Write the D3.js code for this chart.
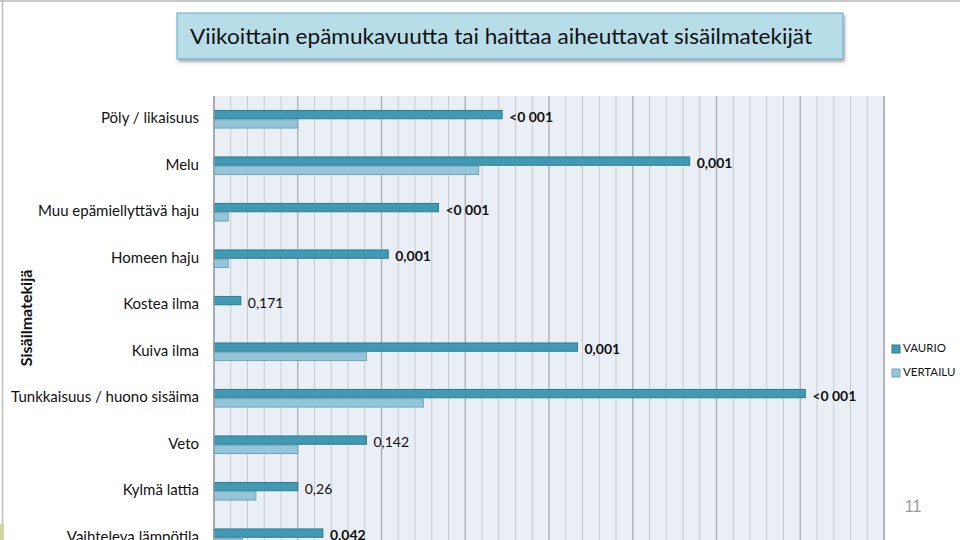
<!DOCTYPE html>
<html>
<head>
<meta charset="utf-8">
<script src="https://cdn.jsdelivr.net/npm/d3@7"></script>
<style>
  body { margin: 0; background: #fff; }
  svg { display: block; font-family: Lato, "Open Sans", sans-serif; }
</style>
</head>
<body>
<div class="chart"></div>
<script>
// data
var categories = ["Pöly / likaisuus", "Melu", "Muu epämiellyttävä haju", "Homeen haju", "Kostea ilma",
  "Kuiva ilma", "Tunkkaisuus / huono sisäima", "Veto", "Kylmä lattia", "Vaihteleva lämpötila"]
var vaurio = [17.2, 28.4, 13.4, 10.4, 1.6, 21.7, 35.3, 9.1, 5.0, 6.5]
var vertailu = [5.0, 15.8, 0.85, 0.85, 0, 9.1, 12.5, 5.0, 2.5, 1.7]
var pLabels = ["<0 001", "0,001", "<0 001", "0,001", "0,171", "0,001", "<0 001", "0,142", "0,26", "0,042"]
var pBold = [true, true, true, true, false, true, true, false, false, true]
var seriesNames = ["VAURIO", "VERTAILU"]
var seriesColors = ["#4299b3", "#94c5d8"]
var seriesStroke = ["#2b7b92", "#6ea5b9"]

var W = 960, H = 540
var svg = d3.select(".chart").append("svg")
  .attr("width", W)
  .attr("height", H)

// slide frame
svg.append("line").attr("x1", 0).attr("x2", W).attr("y1", 1).attr("y2", 1)
  .attr("stroke", "#c8c8c8").attr("stroke-width", 2)
svg.append("line").attr("x1", 2.5).attr("x2", 2.5).attr("y1", 0).attr("y2", H)
  .attr("stroke", "#bdbdbd").attr("stroke-width", 1.5)
svg.append("rect").attr("x", 0).attr("y", 524).attr("width", 4).attr("height", 16)
  .attr("fill", "#cfd6a0")

// title box
var defs = svg.append("defs")
var f = defs.append("filter").attr("id", "shadow").attr("x", "-5%").attr("y", "-20%").attr("width", "110%").attr("height", "150%")
f.append("feDropShadow").attr("dx", 1.5).attr("dy", 2.5).attr("stdDeviation", 1.5).attr("flood-color", "#555").attr("flood-opacity", 0.5)

svg.append("rect")
  .attr("x", 177).attr("y", 13).attr("width", 666).attr("height", 46)
  .attr("fill", "#b7dde9").attr("stroke", "#62adc6").attr("stroke-width", 1)
  .attr("filter", "url(#shadow)")
svg.append("text")
  .attr("x", 190).attr("y", 44)
  .attr("font-size", 22)
  .attr("fill", "#111")
  .attr("textLength", 622)
  .attr("lengthAdjust", "spacingAndGlyphs")
  .text("Viikoittain epämukavuutta tai haittaa aiheuttavat sisäilmatekijät")

// plot area
var plotLeft = 214, plotRight = 884, plotTop = 96
var bandH = 46.5
var x = d3.scaleLinear().domain([0, 40]).range([plotLeft, plotRight])
var y = d3.scaleBand().domain(categories).range([plotTop, plotTop + bandH * categories.length])
var barH = y.bandwidth() * 0.2

var plot = svg.append("g")
plot.append("rect")
  .attr("x", plotLeft).attr("y", plotTop)
  .attr("width", plotRight - plotLeft).attr("height", H - plotTop)
  .attr("fill", "#e9eff4")

// grid
plot.append("g").selectAll("line")
  .data(d3.range(0, 41))
  .enter()
  .append("line")
  .attr("x1", d => x(d)).attr("x2", d => x(d))
  .attr("y1", plotTop).attr("y2", H)
  .attr("stroke", d => d % 5 == 0 ? "#a9aeb3" : "#c5cbd0")
  .attr("stroke-width", d => d % 5 == 0 ? 1.3 : 1)

var rows = categories.map((c, i) => ({ cat: c, v: [vaurio[i], vertailu[i]], p: pLabels[i], bold: pBold[i] }))

// bars
for (let s = 0; s < 2; s++) {
  plot.append("g").selectAll("rect")
    .data(rows.filter(r => r.v[s] > 0))
    .enter()
    .append("rect")
    .attr("x", x(0))
    .attr("y", d => y(d.cat) + y.bandwidth() / 2 - barH + s * barH + 0.5)
    .attr("width", d => x(d.v[s]) - x(0))
    .attr("height", barH - 1)
    .attr("fill", seriesColors[s])
    .attr("stroke", seriesStroke[s])
    .attr("stroke-width", 1)
}

// p-value labels
plot.append("g").selectAll("text")
  .data(rows)
  .enter()
  .append("text")
  .attr("x", d => x(d.v[0]) + 7)
  .attr("y", d => y(d.cat) + y.bandwidth() / 2 - 1)
  .attr("dominant-baseline", "middle")
  .attr("font-size", 14)
  .attr("font-weight", d => d.bold ? "bold" : "normal")
  .attr("fill", "#111")
  .text(d => d.p)

// axis lines
plot.append("line").attr("x1", plotLeft).attr("x2", plotLeft).attr("y1", plotTop).attr("y2", H)
  .attr("stroke", "#9a9ea3").attr("stroke-width", 1.3)
plot.append("line").attr("x1", plotRight).attr("x2", plotRight).attr("y1", plotTop).attr("y2", H)
  .attr("stroke", "#a9aeb3").attr("stroke-width", 1.3)

// category labels
svg.append("g").selectAll("text")
  .data(categories)
  .enter()
  .append("text")
  .attr("x", 199)
  .attr("y", d => y(d) + y.bandwidth() / 2)
  .attr("text-anchor", "end")
  .attr("dominant-baseline", "middle")
  .attr("font-size", 15)
  .attr("fill", "#111")
  .text(d => d)

// axis title
svg.append("text")
  .attr("transform", "translate(32,318) rotate(-90)")
  .attr("text-anchor", "middle")
  .attr("font-size", 16)
  .attr("font-weight", "bold")
  .attr("fill", "#111")
  .text("Sisäilmatekijä")

// legend
var legend = svg.append("g").selectAll("g")
  .data(seriesNames)
  .enter()
  .append("g")
  .attr("transform", (d, i) => `translate(892,${349 + i * 24})`)
legend.append("rect")
  .attr("x", 0).attr("y", -4).attr("width", 8).attr("height", 8)
  .attr("fill", (d, i) => seriesColors[i])
  .attr("stroke", (d, i) => seriesStroke[i])
legend.append("text")
  .attr("x", 11).attr("y", 0)
  .attr("dominant-baseline", "middle")
  .attr("font-size", 11.5)
  .attr("fill", "#111")
  .text(d => d)

// slide number
svg.append("text")
  .attr("x", 913).attr("y", 508)
  .attr("text-anchor", "middle")
  .attr("dominant-baseline", "middle")
  .attr("font-size", 16)
  .attr("font-family", "Liberation Sans, Arial, sans-serif")
  .attr("fill", "#9a9a9a")
  .text("11")
</script>
</body>
</html>
